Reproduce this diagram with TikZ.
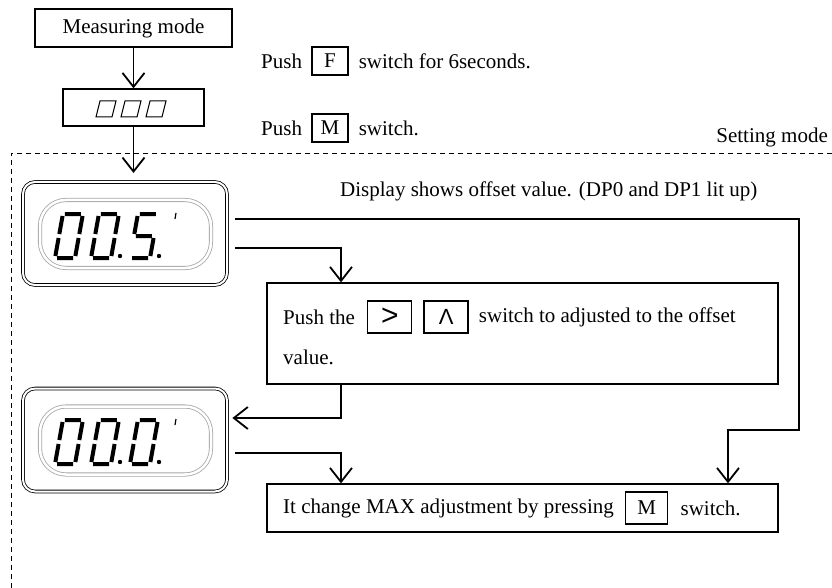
\documentclass[tikz,border=0pt]{standalone}
\usepackage{fontspec}
\setmainfont{Liberation Serif}
\newfontfamily\keyfont{Liberation Sans}
\usetikzlibrary{positioning}
\usetikzlibrary{arrows.meta}

% seven segment digits, drawn in a slanted scope
\newcommand\digzero{\draw (2,44)--(18,44) (20,42)--(20,24) (20,20)--(20,2) (2,0)--(18,0) (0,2)--(0,20) (0,24)--(0,42);}
\newcommand\digfive{\draw (2,44)--(18,44) (0,42)--(0,24) (2,22)--(18,22) (20,20)--(20,2) (2,0)--(18,0);}
\newcommand\lcddigit[3]{\begin{scope}[shift={(#1,#2)},x=1pt,y=1pt,xslant=0.18,line width=4pt]#3\end{scope}}

\tikzset{
  txt/.style={inner sep=0pt, font=\fontsize{21}{25}\selectfont},
  box/.style={draw, line width=1.3pt, inner sep=0pt},
  key/.style={draw, line width=1.3pt, minimum width=36pt, minimum height=28pt, inner sep=0pt, font=\fontsize{21}{25}\selectfont},
  bigkey/.style={key, minimum width=44pt, minimum height=32pt},
  arr/.style={line width=1.8pt, -{Straight Barb[length=14pt,width=22pt,line width=1.8pt]}},
  lcd/.style={draw, rounded corners=12pt, double, double distance=2pt, line width=0.8pt, minimum width=204pt, minimum height=103pt},
  lcdin/.style={draw=gray!70, rounded corners=26pt, double, double distance=2.5pt, line width=0.8pt, minimum width=171pt, minimum height=68pt},
}

\begin{document}
\begin{tikzpicture}[x=1pt, y=-1pt]
\useasboundingbox (0,0) rectangle (832,588);

% measuring mode
\node[box, txt, minimum width=197pt, minimum height=38pt] (meas) at (133.5,28) {Measuring mode};
\node[box, minimum width=141pt, minimum height=37pt] (dsp0) at (133.5,107.5) {};
\foreach \px in {96,121,146}
  \draw[line width=1pt] (\px,117) -- (\px+16,117) -- (\px+20,101) -- (\px+4,101) -- cycle;
\draw[arr] (meas) -- (dsp0);
\coordinate (in1) at (133.5,173);
\draw[arr] (dsp0) -- (in1);

\node[txt, anchor=west] (pushF) at (261,61) {Push};
\node[key, right=9pt of pushF] (keyF) {F};
\node[txt, right=10pt of keyF] (swF) {switch for 6seconds.};

\node[txt, anchor=west] (pushM) at (261,128) {Push};
\node[key, right=9pt of pushM] (keyM) {M};
\node[txt, right=10pt of keyM] (swM) {switch.};

% setting mode frame
\node[txt, anchor=east] (setm) at (828,137) {Setting mode};
\draw[line width=0.8pt, dash pattern=on 5pt off 4pt] (832,153) -- (11,153) -- (11,588);

% displays
\node[lcd] (lcdA) at (125,233.5) {};
\node[lcdin] at (125.5,234) {};
\lcddigit{55}{258}{\digzero}
\lcddigit{91}{258}{\digzero}
\lcddigit{130}{258}{\digfive}
\fill (120,256) circle (2.2pt) (159,256) circle (2.2pt);
\draw[line width=1.2pt] (176,213) -- (175,219);

\node[lcd] (lcdB) at (125,440) {};
\node[lcdin] at (125.5,440.5) {};
\lcddigit{55}{464}{\digzero}
\lcddigit{91}{464}{\digzero}
\lcddigit{130}{464}{\digzero}
\fill (120,462) circle (2.2pt) (159,462) circle (2.2pt);
\draw[line width=1.2pt] (176,419) -- (175,425);

\node[txt, anchor=west] (note) at (340,191) {Display shows offset value. (DP0 and DP1 lit up)};

% adjust box
\node[box, minimum width=511pt, minimum height=101pt] (adj) at (522.5,333.5) {};
\node[txt, anchor=west] (adj1) at (283,317) {Push the};
\node[bigkey, font=\keyfont\fontsize{30}{30}\selectfont, right=12pt of adj1] (keyR) {>};
\node[bigkey, font=\keyfont\fontsize{22}{25}\selectfont, right=11pt of keyR] (keyU) {Λ};
\node[txt, right=10pt of keyU] (adj2) {switch to adjusted to the offset};
\node[txt, anchor=west] (adj3) at (283,357) {value.};

% max box
\node[box, minimum width=511pt, minimum height=48pt] (maxb) at (522.5,508) {};
\node[txt, anchor=west] (max1) at (283,508) {It change MAX adjustment by pressing};
\node[bigkey, minimum width=42pt, right=11pt of max1] (keyM2) {M};
\node[txt, right=12pt of keyM2] (max2) {switch.};

% connectors
\coordinate (colB) at (341,0);
\coordinate (rgt) at (799,430);
\coordinate (stp) at (728,430);
\draw[arr] ([xshift=8pt,yshift=14.5pt]lcdA.east) -| (rgt) -- (stp) -- (stp |- maxb.north);
\draw[arr] ([xshift=8pt,yshift=-14.5pt]lcdA.east) -| (adj.north -| colB);
\draw[arr] (adj.south -| colB) |- ([xshift=5pt,yshift=22pt]lcdB.east);
\draw[arr] ([xshift=8pt,yshift=-13pt]lcdB.east) -| (maxb.north -| colB);
\end{tikzpicture}
\end{document}
